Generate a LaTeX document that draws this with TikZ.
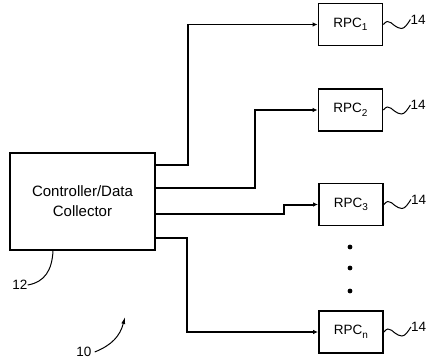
\documentclass[tikz,border=0pt]{standalone}
\usepackage{fontspec}
\setmainfont{Liberation Sans}
\usetikzlibrary{positioning,calc,arrows.meta}
\newcommand{\sub}[1]{\raisebox{-3.5pt}{\fontsize{10}{10}\selectfont #1}}
\tikzset{
	x=1pt,y=-1pt,
	unit/.style ={rectangle, draw, line width=1.8pt, minimum width=64pt, minimum height=42pt, inner sep=0pt, font=\fontsize{13.5}{15}\selectfont}, % the RPC boxes
	hub/.style ={rectangle, draw, line width=1.8pt, minimum width=145pt, minimum height=97pt, align=center, font=\fontsize{15}{20}\selectfont},
	wire/.style ={-{Latex[length=5pt,width=4.5pt]}, line width=1.4pt},
	lead/.style ={line width=1pt},
	ref/.style ={inner sep=0pt, font=\fontsize{13.5}{15}\selectfont}
}

\begin{document}
\begin{tikzpicture}
            \useasboundingbox (0,0) rectangle (429,364);
            % boxes
            \node[hub] (ctrl) at (82.5,201.5) {Controller/Data\\Collector};
            \node[unit] (rpc1) at (350.5,24.5) {RPC\sub{1}};
            \node[unit] (rpc2) at (350.5,110) {RPC\sub{2}};
            \node[unit] (rpc3) at (351,204.5) {RPC\sub{3}};
            \node[unit] (rpcn) at (351,332) {RPC\sub{n}};
            % dots between RPC3 and RPCn
            \foreach \y in {247,268,291}
                \fill (350,\y) circle (2.4);
            % connectors
            \draw[wire] ([yshift=36.5pt]ctrl.east) -- ++(32,0) |- (rpc1);
            \draw[wire] ([yshift=13.5pt]ctrl.east) -- ++(99,0) |- (rpc2);
            \draw[wire, line width=2pt] ([yshift=-12.5pt]ctrl.east) -- ++(128,0) |- (rpc3);
            \draw[wire] ([yshift=-36.5pt]ctrl.east) -- ++(31,0) |- (rpcn);
            % reference numerals
            \foreach \r in {rpc1,rpc2,rpc3,rpcn} {
                \node[ref, anchor=west] (l\r) at ($(\r.east)+(27,-5)$) {14};
                \draw[lead] (\r.east) sin ++(4,-3) cos ++(7,4) sin ++(7,3) cos (l\r.west);
            }
            \node[ref] (n12) at (20,285) {12};
            \draw[lead] ([xshift=-29.5pt]ctrl.south) .. controls (52,270) and (45,282) .. (n12.east);
            \node[ref] (n10) at (84,352) {10};
            \coordinate (tip10) at (125,317);
            \draw[lead, -{Latex[length=7pt,width=4pt]}] ([xshift=3pt]n10.east) .. controls (112,345) and (120,336) .. (tip10);
        \end{tikzpicture}
\end{document}
